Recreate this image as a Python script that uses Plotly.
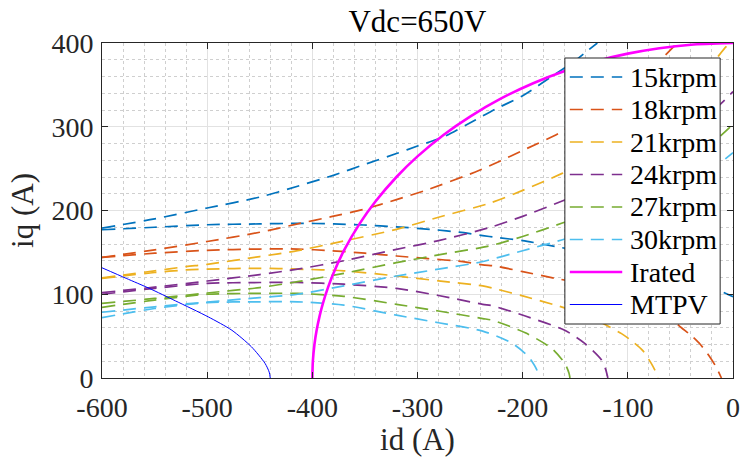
import plotly.graph_objects as go

# ---------------- data ----------------
SPEED_LABELS = ["15krpm", "18krpm", "21krpm", "24krpm", "27krpm", "30krpm"]
SPEED_COLORS = ["#0072BD", "#D95319", "#EDB120", "#7E2F8E", "#77AC30", "#4DBEEE"]

# upper branches of the voltage-limit contours
ID_15_UP = [-600, -550, -500, -450, -414, -380, -348, -320, -300, -275, -245, -226, -200, -170, -150, -138, -129]
IQ_15_UP = [179, 190, 203, 216, 229, 242, 256, 268, 277, 288, 308, 321, 337, 362, 379, 391, 400]
ID_18_UP = [-600, -550, -500, -450, -414, -382, -351, -320, -293, -245, -226, -196, -166, -130, -100, -80, -67, -53]
IQ_18_UP = [144, 153, 163, 174, 184, 192.6, 201.4, 213, 223.7, 246, 256.4, 274, 292, 320, 347, 366, 382, 400]
ID_21_UP = [-600, -550, -520, -500, -450, -414, -376, -320, -280, -232, -200, -163, -120, -80, -40, -15.6, -6.5, -2]
IQ_21_UP = [119.5, 128, 133, 135.7, 145, 152, 162, 177.5, 192, 208.5, 224, 244, 270, 300, 342, 381.6, 395.6, 400]
ID_24_UP = [-600, -550, -500, -450, -414, -370, -320, -280, -232, -200, -163, -120, -80, -40, -9.4, 0]
IQ_24_UP = [102, 108.5, 115.8, 123.5, 130, 140, 153.6, 164, 179.5, 193, 211, 234, 261, 295, 330, 342]
ID_27_UP = [-600, -550, -500, -450, -414, -370, -320, -280, -232, -200, -163, -120, -80, -40, 0]
IQ_27_UP = [89, 95, 101.5, 108, 115, 125, 137.7, 147, 157.6, 169, 184.7, 204, 228, 258, 303]
ID_30_UP = [-600, -550, -500, -450, -414, -370, -320, -280, -240, -200, -163, -120, -80, -40, 0]
IQ_30_UP = [78.5, 85, 90.7, 96, 100, 110, 121.8, 130, 138.5, 152, 164.8, 182, 202, 230, 269]

# lower branches of the voltage-limit contours
ID_15_LO = [-600, -550, -500, -450, -414, -380, -351, -320, -288, -256, -238, -226, -200, -169, -130, -90, -50, -20, 0]
IQ_15_LO = [177, 180, 183, 184, 184.7, 184, 182.7, 180.5, 177.5, 173.5, 170, 168, 164, 157, 148, 136, 121, 108, 97]
ID_18_LO = [-600, -550, -500, -450, -414, -382, -350, -320, -290, -257, -238, -226, -200, -169, -140, -110, -80, -60, -49, -40, -31, -22, -16, -11]
IQ_18_LO = [144, 149, 152.5, 154, 154, 152, 149, 145.7, 142.5, 139, 135, 133.7, 127, 119, 112, 101, 86, 72, 60, 51, 40, 25, 13, 0]
ID_21_LO = [-600, -550, -520, -500, -450, -414, -370, -320, -280, -238, -226, -200, -166, -140, -119, -106, -97, -86, -78, -73, -71.5]
IQ_21_LO = [119, 126, 129, 130, 131, 130, 128, 121.8, 116, 110, 106.5, 98, 86, 75, 62, 53, 45, 33, 18, 6, 0]
ID_24_LO = [-600, -550, -500, -450, -414, -370, -320, -280, -238, -229, -197.5, -160, -141, -125, -121, -119]
IQ_24_LO = [100, 107, 113, 114, 114, 112, 107, 98.5, 88, 86.3, 74, 57, 41.4, 21.5, 10, 0]
ID_27_LO = [-600, -550, -500, -450, -414, -370, -320, -280, -238, -229, -197.5, -172.5, -160, -156, -155]
IQ_27_LO = [84.4, 93, 100, 101, 101, 97.5, 88, 80, 71, 69, 54, 35.4, 17.5, 6, 0]
ID_30_LO = [-600, -550, -500, -450, -414, -370, -320, -280, -238, -210, -194.4, -186.5, -185]
IQ_30_LO = [72, 83, 90, 91, 91, 87, 75, 66, 56, 41.4, 25.4, 9.5, 0]

# rated current boundary
ID_IRATED = [-400, -399.5, -398, -396, -393, -390, -385, -380, -370, -355, -340, -320, -300, -275, -250,
             -220, -190, -160, -130, -100, -70, -40, 0]
IQ_IRATED = [0, 20, 40, 56.4, 74.5, 88.9, 108.5, 124.9, 152.0, 184.3, 210.7, 240, 264.6, 290.5, 312.2,
             334.1, 352.0, 366.6, 378.3, 387.3, 393.8, 398.0, 400]

# MTPV line
ID_MTPV = [-600, -577, -555, -530, -499, -476.5, -458, -445, -441, -440]
IQ_MTPV = [131.6, 119, 107, 92, 73, 57, 37.4, 17.5, 7, 0]

X_TICKS = [-600, -500, -400, -300, -200, -100, 0]
X_TICK_TEXT = ["-600", "-500", "-400", "-300", "-200", "-100", "0"]
Y_TICKS = [0, 100, 200, 300, 400]
Y_TICK_TEXT = ["0", "100", "200", "300", "400"]

UPPER = [(ID_15_UP, IQ_15_UP), (ID_18_UP, IQ_18_UP), (ID_21_UP, IQ_21_UP),
         (ID_24_UP, IQ_24_UP), (ID_27_UP, IQ_27_UP), (ID_30_UP, IQ_30_UP)]
LOWER = [(ID_15_LO, IQ_15_LO), (ID_18_LO, IQ_18_LO), (ID_21_LO, IQ_21_LO),
         (ID_24_LO, IQ_24_LO), (ID_27_LO, IQ_27_LO), (ID_30_LO, IQ_30_LO)]

# ---------------- figure ----------------
FONT = "Liberation Serif"
DASH = "13px,8px"
TEXT_COLOR = "#262626"

fig = go.Figure()
legend_entries = []  # (name, line style) for the boxed legend
for label, color, up, lo in zip(SPEED_LABELS, SPEED_COLORS, UPPER, LOWER):
    line = dict(color=color, width=1.7, dash=DASH, shape="spline", smoothing=0.7)
    fig.add_trace(go.Scatter(x=up[0], y=up[1], mode="lines", name=label, line=line))
    fig.add_trace(go.Scatter(x=lo[0], y=lo[1], mode="lines", name=label, line=line))
    legend_entries.append((label, dict(color=color, width=1.7, dash=DASH)))

irated_line = dict(color="#FF00FF", width=2.6)
mtpv_line = dict(color="#0000FF", width=1)
fig.add_trace(go.Scatter(x=ID_IRATED, y=IQ_IRATED, mode="lines", name="Irated",
                         line=dict(**irated_line, shape="spline", smoothing=0.7)))
fig.add_trace(go.Scatter(x=ID_MTPV, y=IQ_MTPV, mode="lines", name="MTPV",
                         line=dict(**mtpv_line, shape="spline", smoothing=0.7)))
legend_entries.append(("Irated", irated_line))
legend_entries.append(("MTPV", mtpv_line))

axis_common = dict(
    ticks="inside", ticklen=6, tickcolor=TEXT_COLOR, tickwidth=1,
    showline=True, linecolor=TEXT_COLOR, linewidth=1, mirror="ticks",
    showgrid=True, gridcolor="#E2E2E2", gridwidth=1, zeroline=False,
    tickfont=dict(family=FONT, size=28, color=TEXT_COLOR),
)

fig.update_xaxes(range=[-600, 0], tickmode="array", tickvals=X_TICKS, ticktext=X_TICK_TEXT,
                 ticklabelstandoff=4,
                 title=dict(text="id (A)", font=dict(family=FONT, size=31, color=TEXT_COLOR), standoff=2),
                 minor=dict(dtick=20, tick0=0, showgrid=True, gridcolor="#CFCFCF",
                            griddash="dot", gridwidth=1, ticks=""),
                 **axis_common)
fig.update_yaxes(range=[0, 400], tickmode="array", tickvals=Y_TICKS, ticktext=Y_TICK_TEXT,
                 ticklabelstandoff=2,
                 title=dict(text="iq (A)", font=dict(family=FONT, size=31, color=TEXT_COLOR), standoff=8),
                 minor=dict(dtick=20, tick0=0, showgrid=True, gridcolor="#CFCFCF",
                            griddash="dot", gridwidth=1, ticks=""),
                 **axis_common)

# ---- boxed legend in the MATLAB style (paper coordinates) ----
PLOT_L, PLOT_R, PLOT_T, PLOT_B = 102, 740, 43, 378
def px_x(p):
    return (p - PLOT_L) / (PLOT_R - PLOT_L)
def px_y(p):
    return (PLOT_B - p) / (PLOT_B - PLOT_T)

shapes = [dict(type="rect", xref="paper", yref="paper",
               x0=px_x(570), x1=px_x(727), y0=px_y(324), y1=px_y(58),
               fillcolor="white", line=dict(color=TEXT_COLOR, width=1), layer="above")]
annotations = []
for k, (name, lstyle) in enumerate(legend_entries):
    yc = px_y(77 + 32.5 * k)
    shapes.append(dict(type="line", xref="paper", yref="paper",
                       x0=px_x(575), x1=px_x(628), y0=yc, y1=yc,
                       line=lstyle, layer="above"))
    annotations.append(dict(text=name, xref="paper", yref="paper", x=px_x(634), y=yc,
                            xanchor="left", yanchor="middle", showarrow=False,
                            font=dict(family=FONT, size=28, color="black")))

fig.update_layout(
    width=747, height=457,
    margin=dict(l=102, r=7, t=43, b=79),
    paper_bgcolor="white", plot_bgcolor="white",
    font=dict(family=FONT, color=TEXT_COLOR),
    title=dict(text="Vdc=650V", x=0.5, xref="paper", xanchor="center",
               y=1 - 21 / 457, yref="container", yanchor="middle",
               font=dict(family=FONT, size=31, color="black")),
    showlegend=False,
    shapes=shapes,
    annotations=annotations,
)

fig.write_html("out.html")
